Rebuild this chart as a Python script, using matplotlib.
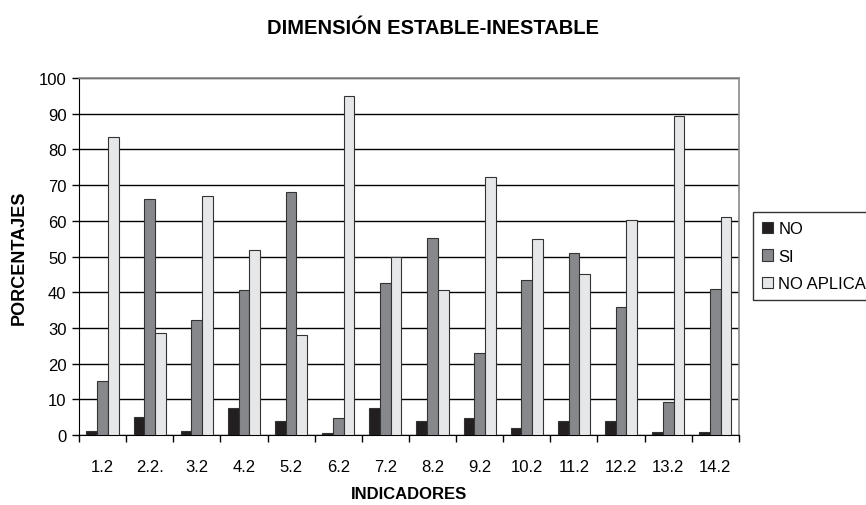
import numpy as np
import matplotlib
matplotlib.use("Agg")
import matplotlib.pyplot as plt

plt.rcParams['font.family'] = ['Liberation Sans', 'DejaVu Sans']

# porcentajes por indicador
indicadores = ['1.2', '2.2.', '3.2', '4.2', '5.2', '6.2', '7.2', '8.2', '9.2',
               '10.2', '11.2', '12.2', '13.2', '14.2']
no_vals = [1.1, 5.2, 1.1, 7.5, 4.1, 0.7, 7.5, 4.1, 4.8, 1.9, 4.1, 4.1, 0.9, 0.9]
si_vals = [15.2, 66.1, 32.1, 40.7, 68.0, 4.8, 42.6, 55.3, 23.1, 43.3, 50.9, 35.8, 9.4, 40.8]
na_vals = [83.4, 28.7, 67.0, 51.9, 28.0, 95.0, 50.0, 40.7, 72.2, 54.9, 45.2, 60.2, 89.3, 61.0]
series = ['NO', 'SI', 'NO APLICA']
colores = ['#231f20', '#87888b', '#e6e7e8']

fig = plt.figure(figsize=(8.66, 5.06), dpi=100)
ax = fig.add_axes([0.0912, 0.138, 0.762, 0.706])

x = np.arange(len(indicadores))
w = 0.227
for k, (vals, nombre, c) in enumerate(zip([no_vals, si_vals, na_vals], series, colores)):
    ax.bar(x + (k - 1) * w, vals, width=w, color=c, edgecolor='#333333',
           linewidth=0.8, label=nombre, zorder=3)

ax.set_xlim(-0.5, len(indicadores) - 0.5)
ax.set_ylim(0, 100)
ax.set_yticks(range(0, 101, 10))
ax.yaxis.grid(True, color='black', linewidth=1.0, zorder=0)
ax.set_axisbelow(True)

# etiquetas centradas, marcas en los limites de cada categoria
ax.set_xticks(x)
ax.set_xticklabels(indicadores, fontsize=12)
ax.set_xticks(np.arange(-0.5, len(indicadores), 1.0), minor=True)
ax.tick_params(axis='x', which='major', length=0, pad=17)
ax.tick_params(axis='x', which='minor', length=5, width=1, color='black', direction='out')
ax.tick_params(axis='y', length=5, width=1, labelsize=12, pad=4)

for s in ['top', 'right']:
    ax.spines[s].set_color('#8a8a8a')
    ax.spines[s].set_linewidth(1.2)
ax.spines['left'].set_color('black')
ax.spines['bottom'].set_color('black')

ax.set_ylabel('PORCENTAJES', fontsize=13, fontweight='bold', labelpad=8)
ax.set_xlabel('INDICADORES', fontsize=12, fontweight='bold', labelpad=9)
fig.text(0.5, 0.944, 'DIMENSIÓN ESTABLE-INESTABLE', ha='center', va='center',
         fontsize=14.5, fontweight='bold')

leg = fig.legend(loc='upper left', bbox_to_anchor=(0.869, 0.579), fontsize=12,
                 frameon=True, fancybox=False, edgecolor='black', borderaxespad=0,
                 handlelength=0.7, handleheight=0.7, handletextpad=0.3,
                 labelspacing=0.75, borderpad=0.55)
leg.get_frame().set_linewidth(1.0)

fig.savefig('out.png', dpi=100)
